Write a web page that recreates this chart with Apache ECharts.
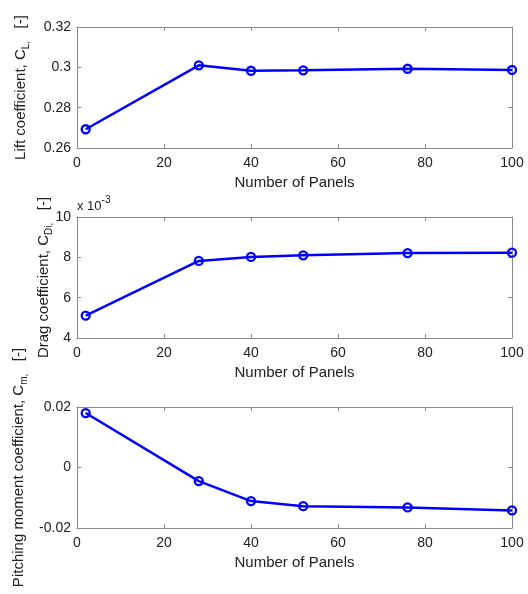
<!DOCTYPE html>
<html>
<head>
<meta charset="utf-8">
<script src="https://cdn.jsdelivr.net/npm/echarts@6/dist/echarts.min.js"></script>
<style>html,body{margin:0;padding:0;background:#fff}#c{width:528px;height:594px}</style>
</head>
<body>
<div id="c"></div>
<script>
const panels = [2, 28, 40, 52, 76, 100];
const liftCL = [0.2693, 0.3010, 0.2983, 0.2985, 0.2993, 0.2987];
const dragCDi = [0.00511, 0.00782, 0.00802, 0.00810, 0.00821, 0.00823];
const pitchCm = [0.0180, -0.0045, -0.0111, -0.0128, -0.0132, -0.0142];
const xTicks = [0, 20, 40, 60, 80, 100];
const liftTicks = [0.26, 0.28, 0.30, 0.32];
const dragTicks = [0.004, 0.006, 0.008, 0.010];
const pitchTicks = [-0.02, 0, 0.02];

const FONT = 'Liberation Sans, Arial, sans-serif';
const BOX = '#8a8a8a';
const TXT = '#202020';
const BLUE = '#0000ff';

const grids = [
  {left: 77, right: 16, top: 27, height: 121},
  {left: 77, right: 16, top: 217, height: 121},
  {left: 77, right: 16, top: 407, height: 121}
];
const nameGaps = [46, 23, 48];

const yDefs = [
  {ticks: liftTicks, name: '{t|Lift coefficient, C}{s|L}{s|,}{t|   [-]}', fmt: v => String(+v.toFixed(2))},
  {ticks: dragTicks, name: '{t|Drag coefficient, C}{s|Di}{s|,}{t|   [-]}', fmt: v => String(Math.round(v * 1000))},
  {ticks: pitchTicks, name: '{t|Pitching moment coefficient, C}{s|m}{s|,}{t|   [-]}', fmt: v => String(+v.toFixed(2))}
];
const seriesVals = [liftCL, dragCDi, pitchCm];

const xAxes = [], yAxes = [], series = [];
grids.forEach((g, i) => {
  const xmin = xTicks[0], xmax = xTicks[xTicks.length - 1], xint = xTicks[1] - xTicks[0];
  xAxes.push({
    type: 'value', gridIndex: i, min: xmin, max: xmax, interval: xint, position: 'bottom',
    name: 'Number of Panels', nameLocation: 'middle', nameGap: 27, nameMoveOverlap: false,
    nameTextStyle: {color: TXT, fontFamily: FONT, fontSize: 15},
    axisLine: {onZero: false, lineStyle: {color: BOX, width: 1}},
    axisTick: {inside: true, length: 4, lineStyle: {color: BOX}},
    axisLabel: {color: TXT, fontFamily: FONT, fontSize: 14, margin: 8},
    splitLine: {show: false}
  });
  xAxes.push({
    type: 'value', gridIndex: i, min: xmin, max: xmax, interval: xint, position: 'top',
    axisLine: {onZero: false, lineStyle: {color: BOX, width: 1}},
    axisTick: {inside: true, length: 4, lineStyle: {color: BOX}},
    axisLabel: {show: false}, splitLine: {show: false}
  });
  const t = yDefs[i].ticks;
  const ymin = t[0], ymax = t[t.length - 1], yint = +(t[1] - t[0]).toFixed(6);
  yAxes.push({
    type: 'value', gridIndex: i, min: ymin, max: ymax, interval: yint, position: 'left',
    name: yDefs[i].name, nameLocation: 'middle', nameGap: nameGaps[i], nameMoveOverlap: false,
    nameTextStyle: {color: TXT, fontFamily: FONT, fontSize: 15,
      rich: {
        t: {color: TXT, fontFamily: FONT, fontSize: 15, lineHeight: 20},
        s: {color: TXT, fontFamily: FONT, fontSize: 10, lineHeight: 10, verticalAlign: 'bottom'}
      }},
    axisLine: {onZero: false, lineStyle: {color: BOX, width: 1}},
    axisTick: {inside: true, length: 4, lineStyle: {color: BOX}},
    axisLabel: {color: TXT, fontFamily: FONT, fontSize: 14, margin: 6, formatter: yDefs[i].fmt},
    splitLine: {show: false}
  });
  yAxes.push({
    type: 'value', gridIndex: i, min: ymin, max: ymax, interval: yint, position: 'right',
    axisLine: {onZero: false, lineStyle: {color: BOX, width: 1}},
    axisTick: {inside: true, length: 4, lineStyle: {color: BOX}},
    axisLabel: {show: false}, splitLine: {show: false}
  });
  series.push({
    type: 'line', xAxisIndex: 2 * i, yAxisIndex: 2 * i,
    data: panels.map((p, k) => [p, seriesVals[i][k]]),
    symbol: 'circle', symbolSize: 8, showAllSymbol: true,
    lineStyle: {color: BLUE, width: 2.5},
    itemStyle: {color: 'rgba(0,0,0,0)', borderColor: BLUE, borderWidth: 2.3},
    emphasis: {disabled: true},
    clip: false, animation: false
  });
});

const chart = echarts.init(document.getElementById('c'), null, {renderer: 'canvas'});
chart.setOption({
  animation: false,
  backgroundColor: '#fff',
  grid: grids,
  xAxis: xAxes,
  yAxis: yAxes,
  series: series,
  graphic: [{
    type: 'text', left: 77, top: 195,
    style: {
      text: '{a|x 10}{b|-3}',
      rich: {
        a: {fontFamily: FONT, fontSize: 13, fill: TXT, lineHeight: 18, verticalAlign: 'bottom'},
        b: {fontFamily: FONT, fontSize: 10, fill: TXT, lineHeight: 10, verticalAlign: 'top'}
      }
    }
  }]
});
</script>
</body>
</html>
